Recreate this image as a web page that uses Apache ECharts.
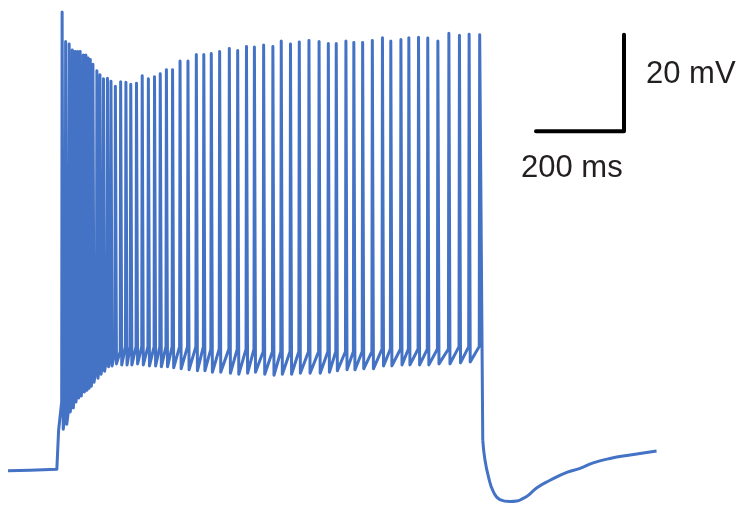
<!DOCTYPE html>
<html>
<head>
<meta charset="utf-8">
<script src="https://cdn.jsdelivr.net/npm/echarts@6/dist/echarts.min.js"></script>
<style>
  html, body { margin: 0; padding: 0; background: #fff; }
  #chart { width: 742px; height: 506px; }
</style>
</head>
<body>
<div id="chart"></div>
<script>
// membrane potential trace, time in ms, voltage in mV
var preT = [0, 50, 111, 114.5, 115, 119];
var preV = [-70.1, -70.0, -69.8, -69.7, -61.9, -61.9];

var spikeT = [123, 131, 139, 146, 152, 158, 164, 171, 177, 182,
              187, 193, 202, 209, 217, 226, 234, 244, 256, 268,
              279, 292, 305, 319, 333, 346, 360, 374, 391, 409,
              428, 445, 462, 481, 503, 522, 542, 560, 581, 602,
              621, 642, 662, 684, 707, 728, 746, 768, 786, 806,
              828, 851, 870, 893, 911, 933, 954, 977, 1002, 1026,
              1048, 1072];
var spikePeak = [22.6, 16.6, 16.1, 14.9, 14.6, 14.6, 14.6, 13.9, 13.9, 13.3,
                 13.0, 12.0, 10.7, 9.9, 9.1, 9.2, 8.6, 7.6, 8.5, 8.4,
                 8.0, 8.2, 9.7, 9.1, 9.5, 10.1, 10.9, 10.9, 12.7, 12.7,
                 14.0, 14.0, 14.2, 14.6, 15.2, 14.8, 15.6, 15.5, 15.9, 15.6,
                 16.7, 16.1, 16.5, 16.8, 16.6, 16.2, 16.2, 16.7, 16.4, 16.4,
                 16.8, 17.4, 16.7, 17.0, 17.4, 17.5, 17.3, 16.7, 18.3, 17.9,
                 18.1, 18.0];
var spikeTrough = [-61.7, -60.7, -58.2, -57.4, -56.2, -55.4, -55.0, -54.2, -53.8, -53.4,
                   -53.0, -52.2, -51.4, -50.6, -50.0, -49.1, -48.9, -48.5, -48.7, -48.7,
                   -48.7, -48.5, -48.7, -48.9, -48.9, -49.1, -49.1, -49.3, -49.5, -49.7,
                   -49.9, -49.9, -50.2, -50.2, -50.4, -50.6, -50.4, -50.2, -50.6, -50.8,
                   -50.6, -50.6, -50.4, -50.4, -50.4, -50.2, -49.9, -49.7, -49.7, -49.5,
                   -49.5, -48.9, -48.9, -48.7, -48.7, -48.7, -48.7, -48.5, -48.5, -48.3,
                   -48.1, -48.1];
var spikeThr = [-56.2, -58.5, -57.5, -55.5, -54.5, -53.5, -53.0, -52.0, -51.5, -51.0,
                -50.5, -50.0, -49.0, -48.0, -47.5, -47.0, -46.5, -46.0, -46.0, -45.0,
                -45.0, -45.0, -45.0, -45.0, -45.0, -45.0, -45.0, -45.0, -45.0, -45.0,
                -45.0, -45.0, -45.5, -45.5, -45.5, -45.5, -45.5, -45.5, -46.0, -46.0,
                -46.0, -46.0, -46.0, -46.0, -46.0, -46.0, -46.0, -46.0, -46.0, -46.0,
                -46.0, -45.5, -45.5, -45.5, -45.5, -45.5, -45.5, -45.5, -45.5, -45.0,
                -45.0, -45.0];

var postT = [1079, 1084, 1092, 1103, 1118, 1141, 1156, 1168, 1183, 1202,
             1232, 1270, 1300, 1330, 1368, 1414, 1474];
var postV = [-63.9, -67.9, -71.3, -74.3, -75.9, -76.3, -76.2, -75.8, -75.0, -73.5,
             -72.0, -70.4, -69.6, -68.5, -67.6, -66.9, -66.1];

// scale bar: 200 ms and 20 mV
var barT = [1200, 1400, 1400];
var barV = [-1.5, -1.5, 18];

var trace = [];
for (var i = 0; i < preT.length; i++) trace.push([preT[i], preV[i]]);
for (var j = 0; j < spikeT.length; j++) {
    trace.push([spikeT[j] - 1, spikeThr[j]]);
    trace.push([spikeT[j], spikePeak[j]]);
    if (j < spikeT.length - 1) trace.push([spikeT[j] + 2.5, spikeTrough[j]]);
}
trace.push([postT[0], postV[0]]);

var recovery = postT.map(function (t, i) { return [t, postV[i]]; });
var bar = barT.map(function (t, i) { return [t, barV[i]]; });

var traceStyle = { color: '#4472c4', width: 3, join: 'round' };

var myChart = echarts.init(document.getElementById('chart'));
var option = {
    animation: false,
    grid: { left: 8, top: 0, width: 660, height: 505 },
    xAxis: { type: 'value', min: 0, max: 1500, show: false },
    yAxis: { type: 'value', min: -77, max: 25, show: false },
    series: [
        {
            type: 'line',
            data: trace,
            showSymbol: false,
            clip: false,
            lineStyle: traceStyle
        },
        {
            type: 'line',
            data: recovery,
            showSymbol: false,
            clip: false,
            smooth: 0.5,
            lineStyle: traceStyle
        },
        {
            type: 'line',
            data: bar,
            showSymbol: false,
            clip: false,
            lineStyle: { color: '#000', width: 4, cap: 'round', join: 'round' }
        }
    ],
    graphic: [
        {
            type: 'text', left: 646, top: 59,
            style: { text: '20 mV', fill: '#231f20', font: '31px "Liberation Sans", Arial, sans-serif' }
        },
        {
            type: 'text', left: 521, top: 153,
            style: { text: '200 ms', fill: '#231f20', font: '31px "Liberation Sans", Arial, sans-serif' }
        }
    ]
};
myChart.setOption(option);
</script>
</body>
</html>
